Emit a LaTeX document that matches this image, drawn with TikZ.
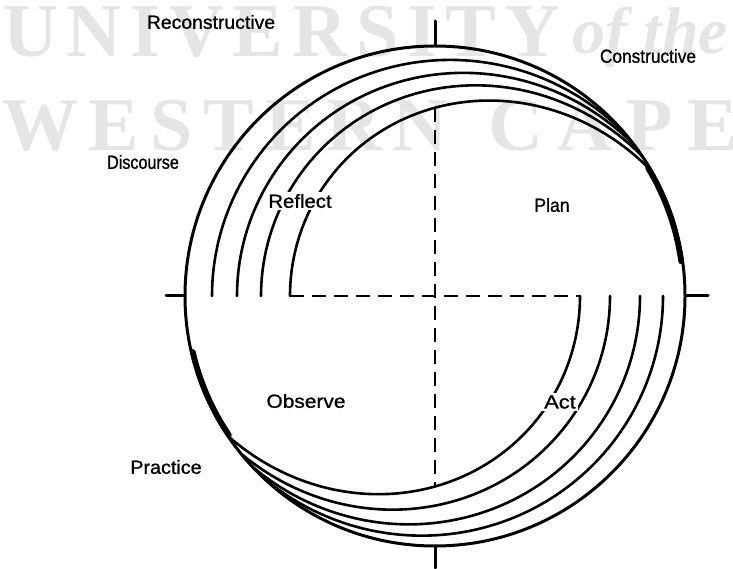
\documentclass[tikz,border=0pt]{standalone}
\usepackage{fontspec}
\setmainfont{Liberation Sans}
\newfontfamily\lblfont{Liberation Sans}[FakeBold=1.0]
\newfontfamily\wmfont{Liberation Serif}
\begin{document}
\begin{tikzpicture}[x=1pt,y=1pt,line cap=round,line join=round]
\tikzset{
  circ/.style={line width=3pt},
  arcl/.style={line width=2.6pt},
  band/.style={line width=5.5pt},
  dashline/.style={line width=2.4pt,dash pattern=on 14pt off 8pt,line cap=butt},
  lbl/.style={font=\lblfont\fontsize{19}{21}\selectfont,inner sep=0pt},
  gaplbl/.style={lbl,fill=white,inner sep=2.5pt},
  wm/.style={text=black!10,inner sep=0pt,anchor=base west,font=\wmfont\bfseries\fontsize{76}{78}\selectfont},
}
\useasboundingbox (0,0) rectangle (733,568);
% watermark
\node[wm] (wm1) at (3,511) {\makebox[557pt]{U\hfill N\hfill I\hfill V\hfill E\hfill R\hfill S\hfill I\hfill T\hfill Y}};
\node[wm,font=\wmfont\bfseries\itshape\fontsize{66}{68}\selectfont] (wm2) at (572,514) {of the};
\node[wm] (wm3) at (2,417) {\makebox[445pt]{W\hfill E\hfill S\hfill T\hfill E\hfill R\hfill N}};
\node[wm] (wm4) at (488,417) {\makebox[250pt]{C\hfill A\hfill P\hfill E}};
% centre
\coordinate (O) at (435,272);
% outer circle
\draw[circ] (O) circle (250);
% axis ticks
\draw[circ] (166,272) -- (185,272);
\draw[circ] (685,272) -- (708,272);
\draw[circ] (435,522) -- (435,547);
\draw[circ] (435,22) -- (435,0);
% thick merged bands
\draw[band] (O) ++(8:248.5) arc[start angle=8,end angle=31,radius=248.5];
\draw[band] (O) ++(193:248.5) arc[start angle=193,end angle=214,radius=248.5];
% upper spiral arcs
\newcommand\uparc[2]{%
  \draw[arcl] plot[domain=180:#2,samples=100,variable=\p]
   ({435+(250-#1*sin(90*(\p-#2)/(180-#2)))*cos(\p)},{272+(250-#1*sin(90*(\p-#2)/(180-#2)))*sin(\p)});}
\newcommand\lowarc[2]{%
  \draw[arcl] plot[domain=180:#2,samples=100,variable=\p]
   ({435+(250-#1*sin(90*(\p-#2)/(180-#2)))*cos(\p+180)},{272+(250-#1*sin(90*(\p-#2)/(180-#2)))*sin(\p+180)});}
\uparc{27}{40}
\uparc{52}{37}
\uparc{76}{34}
\uparc{105}{30}
\lowarc{22}{47}
\lowarc{45}{43}
\lowarc{75}{39}
\lowarc{105}{34}
% dashed cross
\coordinate (hl) at (290,272);
\coordinate (hr) at (580,272);
\coordinate (vt) at (435,{272+250-105*sin(90*60/150)});
\coordinate (vb) at (435,{272-250+105*sin(90*56/146)});
\draw[dashline] (hl) -- (hr);
\draw[dashline] (vt) -- (vb);
% labels
\node[lbl] (rec) at (211,546) {\scalebox{1.02}[1]{Reconstructive}};
\node[lbl] (con) at (648,512) {\scalebox{0.91}[1]{Constructive}};
\node[lbl] (dis) at (143,406) {\scalebox{0.85}[1]{Discourse}};
\node[gaplbl] (ref) at (300,367) {\scalebox{1.07}[1]{Reflect}};
\node[lbl] (pla) at (552,363) {\scalebox{0.93}[1]{Plan}};
\node[lbl] (obs) at (306,167) {\scalebox{1.1}[1]{Observe}};
\node[gaplbl] (act) at (560,166) {\scalebox{1.15}[1]{Act}};
\node[lbl] (pra) at (166,101) {\scalebox{1.04}[1]{Practice}};
\end{tikzpicture}
\end{document}
